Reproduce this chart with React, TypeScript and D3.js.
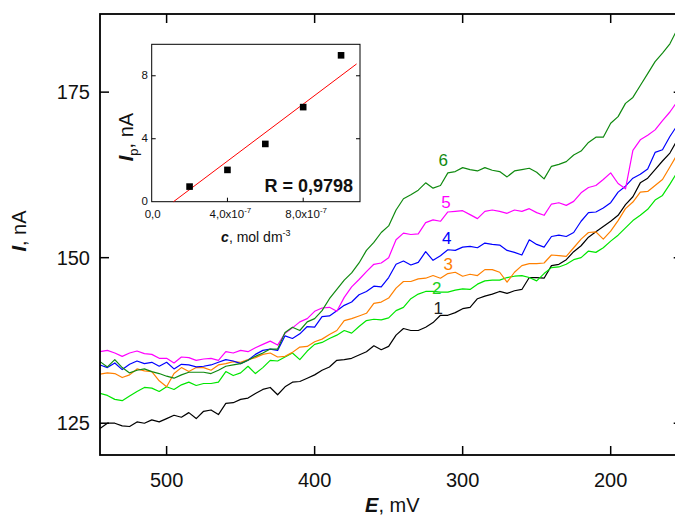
import React from 'react';
import * as d3 from 'd3';

const potentials = [
  545, 540, 535, 530, 525, 520, 515, 510, 505, 500,
  495, 490, 485, 480, 475, 470, 465, 460, 455, 450,
  445, 440, 435, 430, 425, 420, 415, 410, 405, 400,
  395, 390, 385, 380, 375, 370, 365, 360, 355, 350,
  345, 340, 335, 330, 325, 320, 315, 310, 305, 300,
  295, 290, 285, 280, 275, 270, 265, 260, 255, 250,
  245, 240, 235, 230, 225, 220, 215, 210, 205, 200,
  195, 190, 185, 180, 175, 170, 165, 160, 155, 150,
];

const curve1 = [
  124.2, 125.0, 125.0, 124.6, 124.5, 125.2, 125.0, 125.5, 125.2, 125.7,
  126.2, 125.9, 126.6, 125.7, 126.8, 127.0, 126.3, 128.0, 128.1, 128.6,
  128.8, 129.5, 130.1, 130.4, 129.3, 130.5, 131.2, 131.3, 131.8, 132.3,
  133.0, 133.5, 134.5, 134.6, 134.8, 135.3, 135.8, 136.7, 136.1, 136.6,
  138.3, 139.3, 139.0, 139.0, 139.5, 140.2, 141.3, 141.3, 141.7, 142.3,
  142.5, 143.8, 144.2, 144.5, 144.9, 144.6, 145.0, 145.2, 147.0, 147.0,
  146.9, 148.8, 149.0, 149.7, 150.9, 151.8, 153.1, 153.9, 154.7, 155.5,
  156.4, 158.0, 159.2, 161.3, 162.0, 163.3, 164.6, 165.8, 167.8, 169.0,
];

const curve2 = [
  129.5, 129.2, 128.6, 128.4, 129.1, 129.8, 130.4, 130.3, 129.8, 130.5,
  130.1, 130.8, 131.2, 130.7, 131.0, 131.0, 131.2, 132.8, 132.2, 132.6,
  133.6, 132.5, 133.4, 134.5, 134.4, 135.0, 135.6, 134.6, 135.9, 136.9,
  137.2, 137.8, 138.3, 139.0, 138.6, 139.6, 140.5, 140.7, 140.6, 140.9,
  142.0, 142.5, 143.8, 144.5, 144.9, 144.9, 144.8, 144.8, 145.1, 145.3,
  145.2, 146.0, 146.5, 146.6, 146.6, 147.0, 147.2, 147.3, 147.0, 146.5,
  147.6, 148.5, 148.6, 149.0, 149.7, 150.0, 151.0, 150.8, 151.5, 152.5,
  153.4, 154.5, 155.6, 156.4, 157.3, 158.7, 159.4, 161.1, 162.9, 164.0,
];

const curve3 = [
  132.4, 132.6, 132.5, 131.9, 132.3, 133.2, 132.9, 132.8, 131.4, 130.5,
  132.5, 133.4, 132.8, 133.4, 133.4, 133.0, 133.8, 134.0, 134.3, 134.2,
  134.6, 134.9, 135.4, 135.6, 135.0, 135.1, 135.7, 136.5, 136.6, 137.3,
  137.7, 138.4, 139.0, 140.5, 140.8, 141.2, 141.6, 143.1, 143.3, 143.9,
  145.4, 146.4, 146.4, 146.8, 146.9, 147.3, 146.9, 147.6, 147.8, 147.2,
  147.5, 147.3, 148.2, 148.2, 147.8, 146.3, 147.8, 148.8, 149.1, 149.1,
  149.2, 150.4, 150.3, 150.2, 151.5, 152.8, 153.8, 153.9, 152.8, 154.0,
  155.6, 157.4, 158.4, 159.9, 160.0, 160.9, 161.8, 163.7, 165.6, 167.0,
];

const curve4 = [
  133.8, 133.4, 134.1, 133.1, 133.9, 134.4, 134.0, 134.2, 133.6, 134.2,
  133.2, 133.9, 133.8, 133.5, 133.6, 133.8, 134.2, 134.6, 134.4, 134.0,
  134.5, 135.4, 136.0, 136.2, 136.0, 138.2, 137.8, 138.5, 139.6, 139.5,
  141.1, 141.2, 142.0, 142.8, 143.3, 144.4, 144.9, 145.7, 145.6, 147.0,
  149.0, 149.5, 148.9, 149.3, 150.9, 149.6, 150.3, 151.2, 151.1, 151.6,
  151.7, 151.5, 152.2, 152.0, 151.9, 151.1, 150.8, 150.4, 152.7, 152.0,
  151.6, 153.2, 153.4, 153.2, 153.8, 155.5, 156.8, 156.9, 157.5, 158.3,
  159.9, 160.8, 162.0, 162.6, 163.4, 165.9, 166.3, 168.3, 170.0, 171.0,
];

const curve5 = [
  135.8, 136.0, 135.6, 135.1, 135.6, 135.9, 135.5, 135.4, 134.8, 134.8,
  134.1, 135.0, 134.9, 134.5, 134.7, 134.8, 134.5, 135.8, 135.6, 136.0,
  135.8, 136.4, 136.9, 137.4, 136.8, 138.6, 139.4, 140.3, 140.8, 141.9,
  142.4, 142.5, 141.9, 144.0, 145.6, 146.7, 147.9, 149.0, 149.2, 150.0,
  152.7, 153.7, 153.5, 153.6, 155.3, 155.7, 155.5, 156.9, 157.0, 157.1,
  156.5, 155.9, 157.0, 157.2, 157.0, 156.7, 157.2, 157.0, 157.4, 156.8,
  156.4, 158.1, 158.3, 157.9, 158.5, 159.8, 160.6, 160.9, 161.8, 162.8,
  161.2, 160.4, 166.2, 167.8, 168.5, 169.3, 170.7, 172.0, 173.6, 175.0,
];

const curve6 = [
  134.3, 133.5, 134.6, 133.4, 132.6, 133.0, 133.2, 132.8, 132.5, 132.1,
  131.8, 132.3, 132.7, 132.7, 132.7, 132.5, 133.0, 133.6, 133.8, 134.0,
  134.5, 135.1, 135.6, 136.2, 136.2, 138.7, 139.5, 139.0, 140.3, 140.8,
  142.0, 143.8, 145.2, 146.6, 147.7, 149.2, 151.1, 152.3, 153.8, 154.8,
  157.2, 158.9, 159.5, 160.2, 161.3, 160.5, 160.9, 162.8, 163.0, 163.6,
  163.3, 163.1, 163.6, 163.2, 163.0, 162.2, 163.1, 163.3, 163.5, 162.9,
  161.9, 163.8, 164.1, 164.5, 165.5, 166.1, 167.4, 168.2, 168.2, 170.3,
  171.3, 173.3, 174.2, 176.0, 177.8, 179.6, 180.9, 182.3, 184.5, 186.5,
];

const seriesNames = ['1', '2', '3', '4', '5', '6'];
const seriesColors = ['#000000', '#00e600', '#ff8000', '#0000ff', '#ff00ff', '#108a10'];
const labelColors = ['#222222', '#20d020', '#ff8000', '#0000ff', '#ff00ff', '#108a10'];
const seriesValues = [curve1, curve2, curve3, curve4, curve5, curve6];
// label anchors in data units (E, I)
const labelE = [316.5, 317.6, 309.7, 310.8, 311.3, 313.1];
const labelI = [142.4, 145.4, 149.1, 152.9, 158.4, 164.7];

const xTicks = [500, 400, 300, 200];
const yTicks = [125, 150, 175];

const concentrations = [2e-7, 4e-7, 6e-7, 8e-7, 1e-6];
const peakCurrents = [0.96, 2.02, 3.67, 6.01, 9.3];
const fitSlope = 9.05e6;
const fitIntercept = -1.04;
const fitRange = [1.15e-7, 1.082e-6];
const insetXTicks = [0, 4e-7, 8e-7];
const insetXTickMant = ['0,0', '4,0x10', '8,0x10'];
const insetXTickExp = ['', '-7', '-7'];
const insetYTicks = [0, 4, 8];
const rText = 'R = 0,9798';

const FONT = "'Liberation Sans', Arial, Helvetica, sans-serif";

export default function App() {
  const W = 675;
  const H = 523;
  const left = 100, right = 684.7, top = 14, bottom = 455;
  const x = d3.scaleLinear().domain([545, 150]).range([left, right]);
  const y = d3.scaleLinear().domain([120.2, 186.8]).range([bottom, top]);

  const line = d3
    .line<number>()
    .x((_, i) => x(potentials[i]))
    .y((d) => y(d));

  // inset
  const iL = 151.7, iR = 360, iT = 44.3, iB = 201.7;
  const ix = d3.scaleLinear().domain([0, 1.1e-6]).range([iL, iR]);
  const iy = d3.scaleLinear().domain([0, 10]).range([iB, iT]);
  const fitLine = d3
    .line<number>()
    .x((c) => ix(c))
    .y((c) => iy(fitSlope * c + fitIntercept));

  const tickLen = 9;

  return (
    <svg
      width={W}
      height={H}
      style={{ position: 'absolute', left: 0, top: 0, background: '#fff' }}
      fontFamily={FONT}
    >
      <rect x={0} y={0} width={W} height={H} fill="#fff" />
      <defs>
        <clipPath id="plotClip">
          <rect x={left} y={top} width={right - left} height={bottom - top} />
        </clipPath>
      </defs>

      {/* curves */}
      <g clipPath="url(#plotClip)">
        {seriesValues.map((vals, k) => (
          <path
            key={k}
            d={line(vals) || ''}
            fill="none"
            stroke={seriesColors[k]}
            strokeWidth={1.2}
            strokeLinejoin="round"
          />
        ))}
      </g>

      {/* frame */}
      <rect x={left} y={top} width={right - left} height={bottom - top} fill="none" stroke="#000" strokeWidth={1.8} />

      {/* x ticks */}
      {xTicks.map((t) => (
        <g key={'xt' + t}>
          <line x1={x(t)} x2={x(t)} y1={bottom} y2={bottom - tickLen} stroke="#000" strokeWidth={1.5} />
          <line x1={x(t)} x2={x(t)} y1={top} y2={top + tickLen} stroke="#000" strokeWidth={1.5} />
          <text x={x(t)} y={487} textAnchor="middle" fontSize={20} fill="#111">
            {t}
          </text>
        </g>
      ))}
      {/* y ticks */}
      {yTicks.map((t) => (
        <g key={'yt' + t}>
          <line x1={left} x2={left + tickLen} y1={y(t)} y2={y(t)} stroke="#000" strokeWidth={1.5} />
          <line x1={right} x2={right - tickLen - 2} y1={y(t)} y2={y(t)} stroke="#000" strokeWidth={1.5} />
          <text x={90} y={y(t) + 7} textAnchor="end" fontSize={20} fill="#111">
            {t}
          </text>
        </g>
      ))}

      {/* axis titles */}
      <text x={(left + right) / 2} y={512} textAnchor="middle" fontSize={20} fill="#111">
        <tspan fontWeight="bold" fontStyle="italic">E</tspan>
        <tspan>, mV</tspan>
      </text>
      <text transform={`translate(26, 231) rotate(-90)`} textAnchor="middle" fontSize={20} fill="#111">
        <tspan fontWeight="bold" fontStyle="italic">I</tspan>
        <tspan>, nA</tspan>
      </text>

      {/* curve labels */}
      {seriesNames.map((n, k) => (
        <text
          key={'lab' + n}
          x={x(labelE[k])}
          y={y(labelI[k]) + 6}
          textAnchor="middle"
          fontSize={17}
          fill={labelColors[k]}
        >
          {n}
        </text>
      ))}

      {/* inset */}
      <rect x={iL} y={iT} width={iR - iL} height={iB - iT} fill="#fff" stroke="#000" strokeWidth={1} />
      <path d={fitLine(fitRange) || ''} stroke="#ff0000" strokeWidth={1} fill="none" />
      {concentrations.map((c, i) => (
        <rect key={'pt' + i} x={ix(c) - 3.3} y={iy(peakCurrents[i]) - 3.3} width={6.6} height={6.6} fill="#000" />
      ))}
      {insetYTicks.map((t) => (
        <g key={'iyt' + t}>
          {t > 0 && <line x1={iL} x2={iL + 4} y1={iy(t)} y2={iy(t)} stroke="#000" strokeWidth={1} />}
          {t > 0 && <line x1={iR} x2={iR - 4} y1={iy(t)} y2={iy(t)} stroke="#000" strokeWidth={1} />}
          <text x={148} y={iy(t) + 3.5} textAnchor="end" fontSize={11.5} fill="#111">
            {t}
          </text>
        </g>
      ))}
      {insetXTicks.map((t, i) => (
        <g key={'ixt' + i}>
          {t > 0 && <line x1={ix(t)} x2={ix(t)} y1={iB} y2={iB - 4} stroke="#000" strokeWidth={1} />}
          <text x={ix(t) + (insetXTickExp[i] ? 3 : 1)} y={218} textAnchor="middle" fontSize={11.5} fill="#111">
            <tspan>{insetXTickMant[i]}</tspan>
            {insetXTickExp[i] && (
              <tspan fontSize={8} dy={-5}>
                {insetXTickExp[i]}
              </tspan>
            )}
          </text>
        </g>
      ))}
      <text x={353} y={192} textAnchor="end" fontSize={18} fontWeight="bold" fill="#111">
        {rText}
      </text>
      <text x={(iL + iR) / 2} y={242} textAnchor="middle" fontSize={14} fill="#111">
        <tspan fontWeight="bold" fontStyle="italic">c</tspan>
        <tspan>, mol dm</tspan>
        <tspan fontSize={9} dy={-6}>-3</tspan>
      </text>
      <text transform={`translate(133, ${(iT + iB) / 2 + 14}) rotate(-90)`} textAnchor="middle" fontSize={20} fill="#111">
        <tspan fontWeight="bold" fontStyle="italic">I</tspan>
        <tspan fontSize={13} dy={5}>p</tspan>
        <tspan dy={-5}>, nA</tspan>
      </text>
    </svg>
  );
}
